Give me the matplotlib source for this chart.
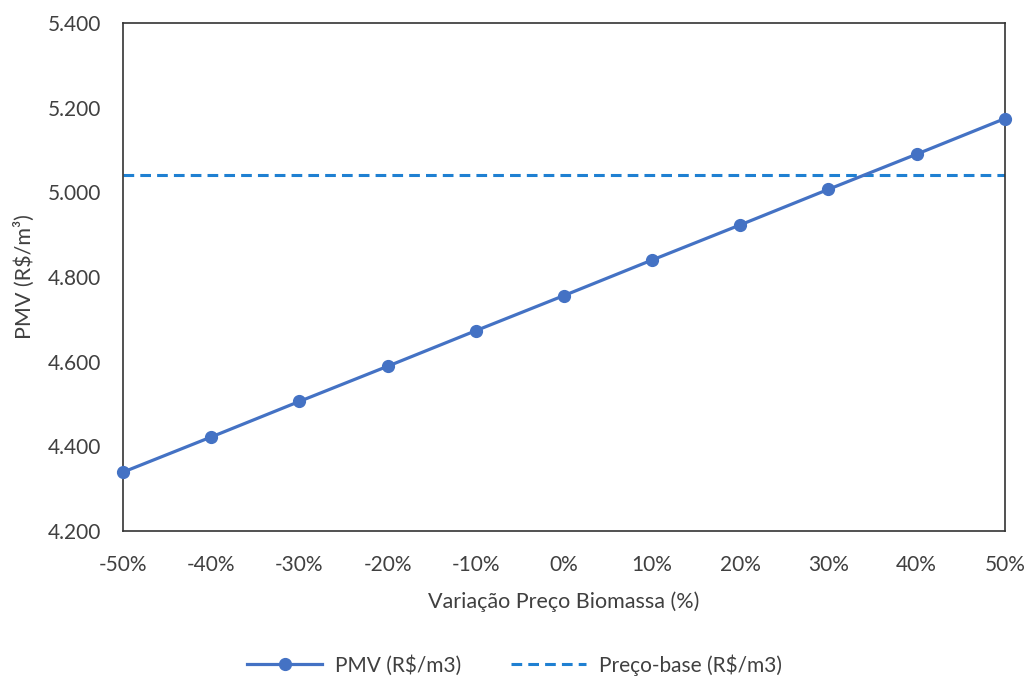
import matplotlib
matplotlib.use("Agg")
import matplotlib.pyplot as plt
from matplotlib.ticker import FuncFormatter, MultipleLocator

# Sensitivity of PMV to biomass price variation
variacao = [-50, -40, -30, -20, -10, 0, 10, 20, 30, 40, 50]
variacao_labels = ["-50%", "-40%", "-30%", "-20%", "-10%", "0%", "10%", "20%", "30%", "40%", "50%"]
pmv = [4339, 4422, 4506, 4589, 4673, 4756, 4840, 4923, 5007, 5090, 5174]
preco_base = 5040

plt.rcParams['font.family'] = ['Lato', 'DejaVu Sans']
text_color = '#404040'

fig = plt.figure(figsize=(10.29, 6.82), dpi=100)
ax = fig.add_axes([0.1195, 0.2214, 0.857, 0.745])

ax.plot(variacao, pmv, color='#4472C4', linewidth=2.3, marker='o',
        markersize=8.5, label='PMV (R$/m3)', zorder=3, clip_on=False)
ax.axhline(preco_base, color='#1F80D2', linewidth=2.2, linestyle=(0, (3.5, 2)),
           label='Preço-base (R$/m3)', zorder=2)

ax.set_xlim(-50, 50)
ax.set_ylim(4200, 5400)
ax.set_xticks(variacao)
ax.set_xticklabels(variacao_labels)
ax.yaxis.set_major_locator(MultipleLocator(200))
ax.yaxis.set_major_formatter(FuncFormatter(lambda v, p: f"{v/1000:.3f}"))

ax.tick_params(axis='both', length=0, labelsize=15, colors=text_color)
ax.tick_params(axis='x', pad=17)
ax.tick_params(axis='y', pad=16)
for s in ax.spines.values():
    s.set_color('#333333')
    s.set_linewidth(1.2)

ax.set_xlabel('Variação Preço Biomassa (%)', fontsize=15.5, color=text_color, labelpad=12)
ax.set_ylabel('PMV (R$/m³)', fontsize=15.5, color=text_color, labelpad=9)

fig.legend(loc='lower center', bbox_to_anchor=(0.5, -0.018), ncol=2, frameon=False,
           fontsize=15, handlelength=3.6, columnspacing=2.4, labelcolor=text_color,
           handletextpad=0.6)

fig.savefig('out.png', dpi=100, facecolor='white')
